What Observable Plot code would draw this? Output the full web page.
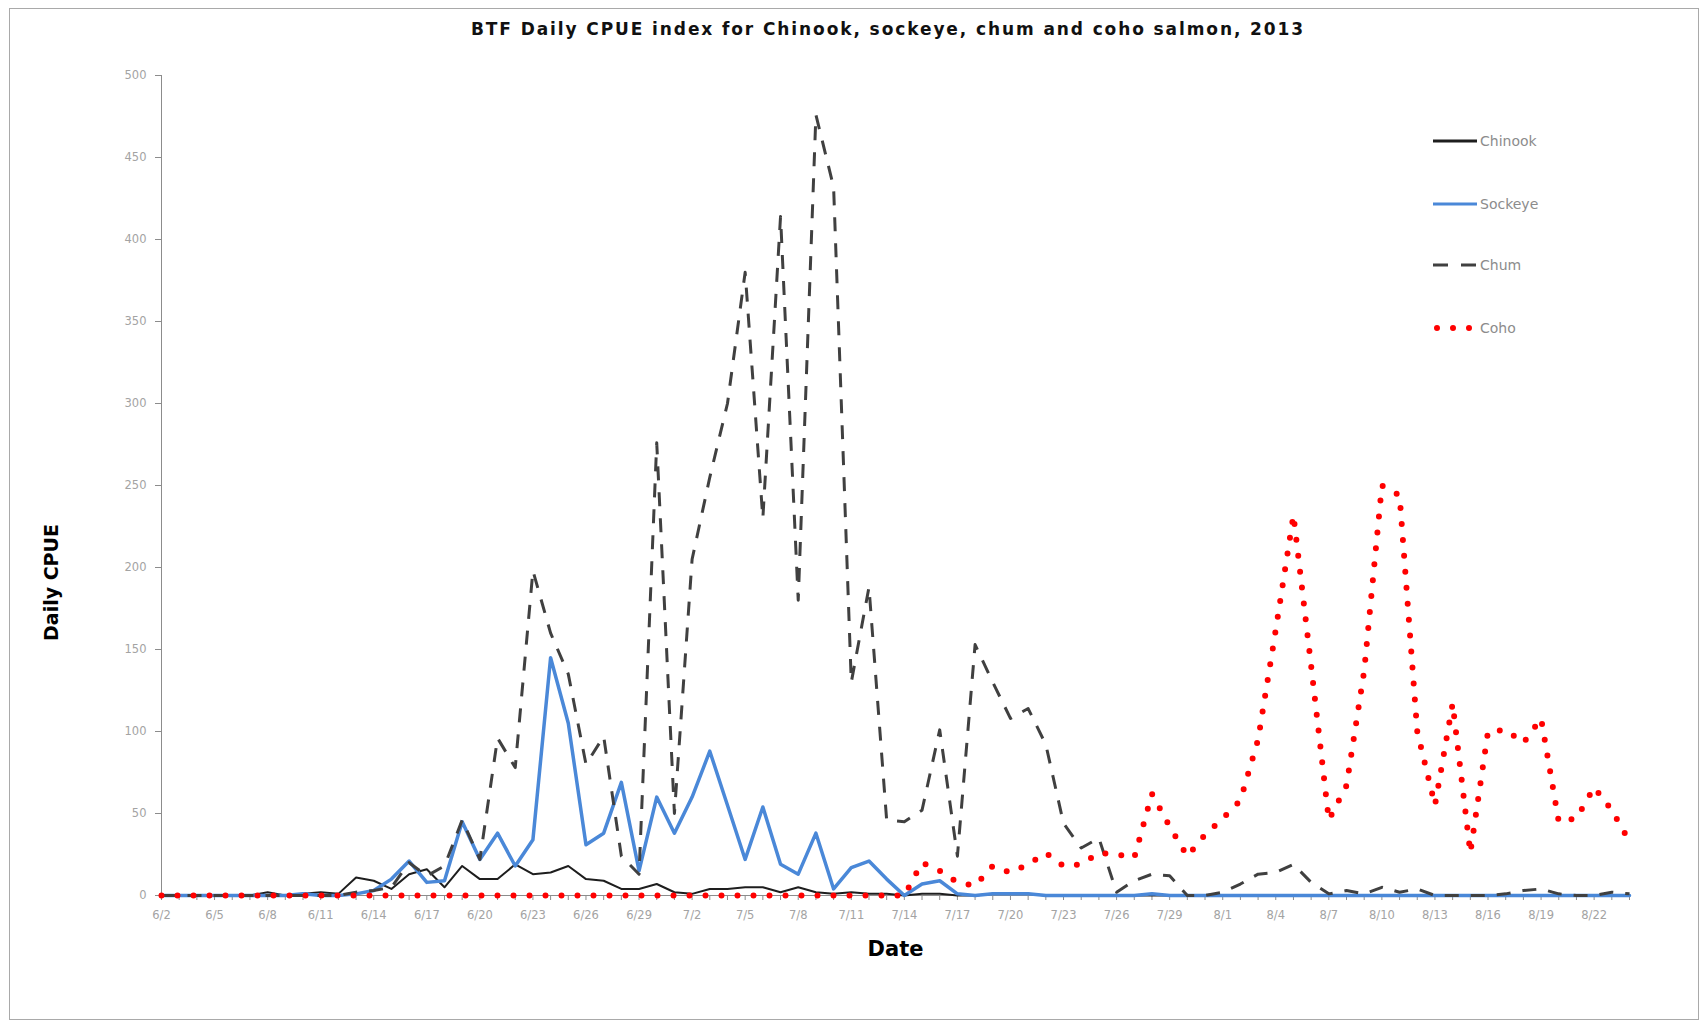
<!DOCTYPE html>
<html>
<head>
<meta charset="utf-8">
<script src="https://cdn.jsdelivr.net/npm/d3@7"></script>
<script src="https://cdn.jsdelivr.net/npm/@observablehq/plot@0.6"></script>
<style>
  html, body { margin: 0; padding: 0; background: #fff; }
  body { width: 1705px; height: 1024px; position: relative; overflow: hidden; font-family: "DejaVu Sans", sans-serif; }
  #frame { position: absolute; left: 9px; top: 8px; width: 1690px; height: 1012px; border: 1.5px solid #a9a9a9; box-sizing: border-box; }
  #title { position: absolute; left: 888px; top: 19px; transform: translateX(-50%); white-space: nowrap;
           font-family: "DejaVu Sans", sans-serif; font-weight: bold; font-size: 17px; letter-spacing: 1.9px; color: #111; }
  #chart { position: absolute; left: 0; top: 50px; }
  #legend { position: absolute; left: 1433px; top: 0; }
  .item { position: absolute; left: 0; height: 18px; display: flex; align-items: center; white-space: nowrap;
          font-family: "DejaVu Sans", sans-serif; font-size: 14px; color: #8c8c8c; }
  .item svg { display: block; margin-right: 3px; }
</style>
</head>
<body>
<div id="frame"></div>
<div id="title">BTF Daily CPUE index for Chinook, sockeye, chum and coho salmon, 2013</div>
<div id="chart"></div>
<div id="legend"></div>
<script>
// Sampling days, 2 June – 24 August 2013
const days = [
  "6/2","6/3","6/4","6/5","6/6","6/7","6/8","6/9","6/10","6/11","6/12","6/13","6/14","6/15","6/16",
  "6/17","6/18","6/19","6/20","6/21","6/22","6/23","6/24","6/25","6/26","6/27","6/28","6/29","6/30",
  "7/1","7/2","7/3","7/4","7/5","7/6","7/7","7/8","7/9","7/10","7/11","7/12","7/13","7/14","7/15",
  "7/16","7/17","7/18","7/19","7/20","7/21","7/22","7/23","7/24","7/25","7/26","7/27","7/28","7/29",
  "7/30","7/31","8/1","8/2","8/3","8/4","8/5","8/6","8/7","8/8","8/9","8/10","8/11","8/12","8/13",
  "8/14","8/15","8/16","8/17","8/18","8/19","8/20","8/21","8/22","8/23","8/24"
];

// Daily CPUE by species (one value per day above)
const chinook = [
  0,0,0,0,0,0,2,0,1,2,1,11,9,4,13,16,5,18,10,10,19,13,14,18,10,9,4,4,7,
  2,1,4,4,5,5,2,5,2,1,2,1,1,0,1,1,0,0,1,1,1,0,0,0,0,0,0,0,0,
  0,0,0,0,0,0,0,0,0,0,0,0,0,0,0,0,0,0,0,0,0,0,0,0,0,0
];
const sockeye = [
  0,0,0,0,0,0,0,0,1,0,0,1,3,10,21,8,9,45,22,38,18,34,145,105,31,38,69,15,60,
  38,60,88,55,22,54,19,13,38,4,17,21,10,0,7,9,1,0,1,1,1,0,0,0,0,0,0,1,0,
  0,0,0,0,0,0,0,0,0,0,0,0,0,0,0,0,0,0,0,0,0,0,0,0,0,0
];
const chum = [
  0,0,0,0,0,0,0,0,0,0,0,2,3,5,20,12,18,46,22,96,78,198,160,135,80,97,24,13,276,
  50,205,255,300,380,230,414,180,476,432,130,188,46,45,52,101,24,153,130,108,114,92,44,29,35,2,9,13,12,
  0,0,2,7,13,14,19,8,1,3,1,5,2,4,0,0,0,0,1,3,4,1,0,0,2,1
];
const coho = [
  0,0,0,0,0,0,0,0,0,0,0,0,0,0,0,0,0,0,0,0,0,0,0,0,0,0,0,0,0,
  0,0,0,0,0,0,0,0,0,0,0,0,0,0,20,15,8,6,18,14,19,26,18,19,26,25,23,62,42,
  24,37,47,58,95,162,232,140,46,67,137,250,244,100,55,117,26,100,101,93,108,45,47,66,52,33
];

// Axis ticks
const yTicks = [0, 50, 100, 150, 200, 250, 300, 350, 400, 450, 500];
const xTickLabels = [
  "6/2","6/5","6/8","6/11","6/14","6/17","6/20","6/23","6/26","6/29","7/2","7/5","7/8","7/11",
  "7/14","7/17","7/20","7/23","7/26","7/29","8/1","8/4","8/7","8/10","8/13","8/16","8/19","8/22"
];

const parseDay = s => { const [m, d] = s.split("/").map(Number); return new Date(Date.UTC(2013, m - 1, d)); };
const dates = days.map(parseDay);
const rows = values => dates.map((date, i) => ({date, value: values[i]}));
const fmt = d3.utcFormat("%-m/%-d");

const styles = {
  Chinook: {stroke: "#1e1e1e", strokeWidth: 2},
  Sockeye: {stroke: "#4a88d8", strokeWidth: 3.5},
  Chum: {stroke: "#404040", strokeWidth: 3, strokeDasharray: "14,12", strokeLinecap: "butt"},
  Coho: {stroke: "#ff0000", strokeWidth: 6, strokeDasharray: "0,16", strokeLinecap: "round"}
};
const series = [["Chinook", chinook], ["Sockeye", sockeye], ["Chum", chum], ["Coho", coho]];

const axisGray = "#8c8c8c";
const labelGray = "#a3a3a3";

const chart = Plot.plot({
  width: 1705,
  height: 974,
  marginTop: 25,
  marginBottom: 129,
  marginLeft: 161,
  marginRight: 76,
  style: {fontFamily: "DejaVu Sans, sans-serif", fontSize: "11.5px", background: "transparent", overflow: "visible"},
  x: {type: "utc", domain: [dates[0], dates[dates.length - 1]]},
  y: {domain: [0, 500]},
  marks: [
    Plot.axisY({ticks: yTicks, tickSize: 6, tickPadding: 9, stroke: axisGray, fill: labelGray, label: null}),
    Plot.axisX({ticks: dates, tickSize: 5, stroke: axisGray, fill: "none", label: null}),
    Plot.axisX({ticks: xTickLabels.map(parseDay), tickSize: 0, tickPadding: 15, tickFormat: fmt, fill: labelGray, label: null}),
    Plot.ruleX([dates[0]], {stroke: axisGray}),
    Plot.ruleY([0], {stroke: axisGray}),
    ...series.map(([name, values]) => Plot.line(rows(values), {x: "date", y: "value", ...styles[name]})),
    Plot.text(["Date"], {text: d => d, frameAnchor: "bottom", dy: 54, lineAnchor: "middle", textAnchor: "middle",
                         fontWeight: "bold", fontSize: 21, fill: "#000"}),
    Plot.text(["Daily CPUE"], {text: d => d, frameAnchor: "left", dx: -110, dy: 97, rotate: -90,
                               lineAnchor: "middle", textAnchor: "middle",
                               fontWeight: "bold", fontSize: 19, fill: "#000"})
  ]
});
document.getElementById("chart").append(chart);

// Legend entries stacked down the right side of the plot
const legend = document.getElementById("legend");
const legendTops = [132, 195, 256, 319];
series.forEach(([name], i) => {
  const s = styles[name];
  const item = document.createElement("div");
  item.className = "item";
  item.style.top = legendTops[i] + "px";
  const svg = d3.create("svg").attr("width", 44).attr("height", 18);
  svg.append("line")
    .attr("x1", name === "Coho" ? 4 : 0).attr("x2", 44).attr("y1", 9).attr("y2", 9)
    .attr("stroke", s.stroke)
    .attr("stroke-width", name === "Coho" ? 6 : 3)
    .attr("stroke-dasharray", name === "Chum" ? "15,13" : (s.strokeDasharray || null))
    .attr("stroke-linecap", s.strokeLinecap || "butt");
  item.append(svg.node());
  item.append(document.createTextNode(name));
  legend.append(item);
});
</script>
</body>
</html>
